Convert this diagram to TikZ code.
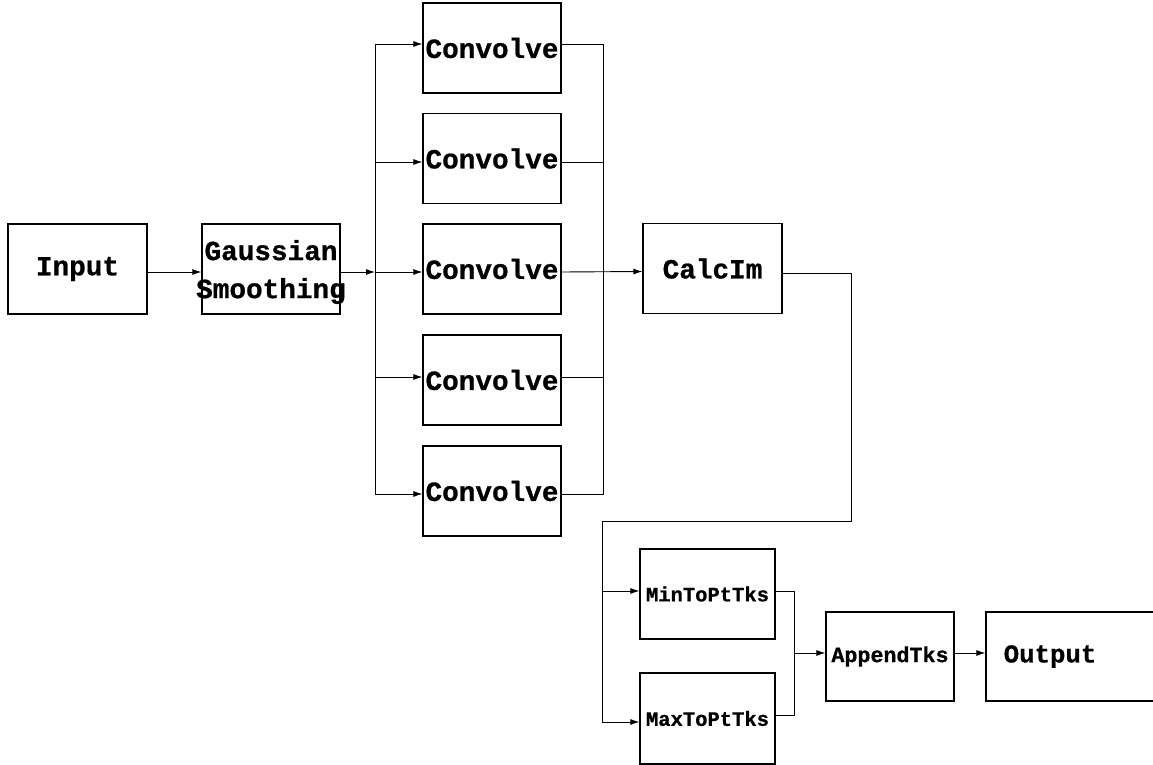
\documentclass[tikz,border=0pt]{standalone}
\usepackage{fontspec}
\setmonofont{Liberation Mono}[BoldFeatures={FakeBold=0.8}]
\usetikzlibrary{arrows.meta}
\newcommand\blockfont[1]{\fontsize{#1}{38}\ttfamily\bfseries}
\begin{document}
\begin{tikzpicture}[x=1pt,y=-1pt,
  box/.style={draw, line width=1.2pt, inner sep=0pt, minimum width=138pt,
    minimum height=90pt, align=center, font=\blockfont{27.7}},
  small/.style={font=\blockfont{20.5}},
  wire/.style={line width=0.9pt},
  arr/.style={wire, -{Latex[length=9pt,width=6pt]}}]
\useasboundingbox (0,0) rectangle (1153,765);

% processing blocks
\node[box, minimum width=139pt] (input) at (77.5,269) {Input};
\node[box, label={[align=center, font=\blockfont{27.7},
  yshift=-3pt]center:Gaussian\\Smoothing}] (gauss) at (271,269) {};
\node[box] (conv1) at (492,48) {Convolve};
\node[box] (conv2) at (492,158.5) {Convolve};
\node[box] (conv3) at (492,269) {Convolve};
\node[box] (conv4) at (492,380) {Convolve};
\node[box] (conv5) at (492,491) {Convolve};
\node[box, minimum width=139pt] (calc) at (712.5,268.5) {CalcIm};
\node[box, small, minimum width=135pt] (min) at (707.5,594) {MinToPtTks};
\node[box, small, minimum width=135pt, minimum height=91pt] (max) at (707.5,718.5) {MaxToPtTks};
\node[box, font=\blockfont{21.7}, minimum width=128pt, minimum height=89pt] (append) at (890,656.5) {AppendTks};
\node[box, minimum width=184pt, minimum height=89pt,
  label={[font=\blockfont{25.7}, xshift=-28pt]center:Output}] (output) at (1078,656.5) {};

% port points
\coordinate (c1i) at ([yshift=4pt]conv1.west);
\coordinate (c1o) at ([yshift=4pt]conv1.east);
\coordinate (c2i) at ([yshift=-3.5pt]conv2.west);
\coordinate (c2o) at ([yshift=-3.5pt]conv2.east);
\coordinate (c3i) at ([yshift=-3pt]conv3.west);
\coordinate (c3o) at ([yshift=-3pt]conv3.east);
\coordinate (c4i) at ([yshift=3pt]conv4.west);
\coordinate (c4o) at ([yshift=3pt]conv4.east);
\coordinate (c5i) at ([yshift=-3pt]conv5.west);
\coordinate (c5o) at ([yshift=-3pt]conv5.east);
\coordinate (calci) at ([yshift=-3pt]calc.west);
\coordinate (calco) at ([yshift=-4.5pt]calc.east);
\coordinate (mini) at ([yshift=3pt]min.west);
\coordinate (mino) at ([yshift=3pt]min.east);
\coordinate (maxi) at ([yshift=-3.5pt]max.west);
\coordinate (maxo) at ([yshift=3.5pt]max.east);
\coordinate (appi) at ([yshift=3.5pt]append.west);
\coordinate (appo) at ([yshift=3.5pt]append.east);
\coordinate (outi) at ([yshift=3.5pt]output.west);

% routing points
\coordinate (bl) at (375,272);
\coordinate (br) at (603,272);
\coordinate (turn) at (851,521);
\coordinate (dl) at (602,521);
\coordinate (jm) at (794,653);

% input side
\draw[arr] ([yshift=-3pt]input.east) -- ([yshift=-3pt]gauss.west);
\draw[arr] ([yshift=-3pt]gauss.east) -- (bl);

% fan-out to the convolutions
\draw[wire] (bl |- c1i) -- (bl |- c5i);
\draw[arr] (bl |- c1i) -- (c1i);
\draw[arr] (bl |- c2i) -- (c2i);
\draw[arr] (bl |- c3i) -- (c3i);
\draw[arr] (bl |- c4i) -- (c4i);
\draw[arr] (bl |- c5i) -- (c5i);

% fan-in to CalcIm
\draw[wire] (c1o) -- (br |- c1o) -- (br |- c5o) -- (c5o);
\draw[wire] (c2o) -- (br |- c2o);
\draw[wire] (c4o) -- (br |- c4o);
\draw[arr] (c3o) -- (calci);

% CalcIm to the extrema blocks
\draw[wire] (calco) -| (turn) -- (dl) -- (dl |- maxi);
\draw[arr] (dl |- mini) -- (mini);
\draw[arr] (dl |- maxi) -- (maxi);

% merge and output
\draw[wire] (mino) -| (jm) |- (maxo);
\draw[arr] (jm) -- (appi);
\draw[arr] (appo) -- (outi);
\end{tikzpicture}
\end{document}
